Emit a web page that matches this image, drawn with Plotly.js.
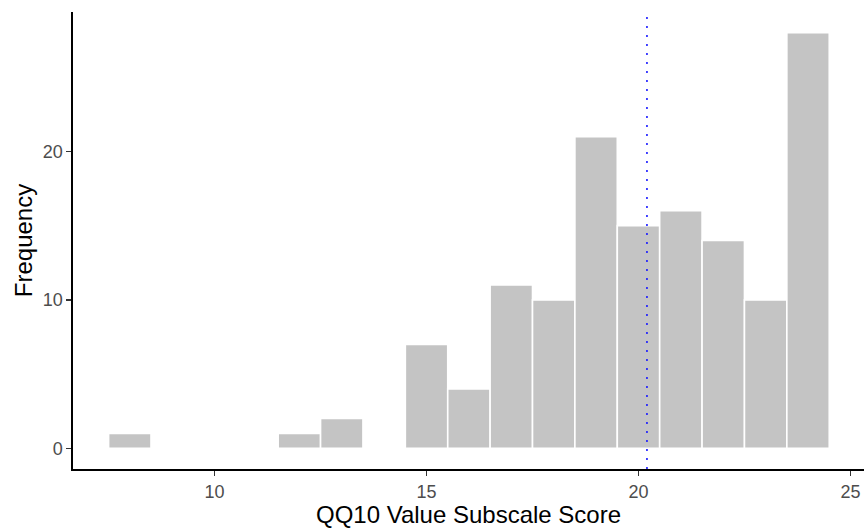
<!DOCTYPE html>
<html>
<head>
<meta charset="utf-8">
<script src="https://cdn.plot.ly/plotly-3.0.1.min.js"></script>
<style>html,body{margin:0;padding:0;background:#fff;}#chart{width:864px;height:528px;}</style>
</head>
<body>
<div id="chart"></div>
<script>
// Histogram bin centers (score) and counts
const scores = [8, 9, 10, 11, 12, 13, 14, 15, 16, 17, 18, 19, 20, 21, 22, 23, 24];
const counts = [1, 0, 0, 0, 1, 2, 0, 7, 4, 11, 10, 21, 15, 16, 14, 10, 28];
const meanScore = 20.2;
const xTicks = [10, 15, 20, 25];
const yTicks = [0, 10, 20];

const trace = {
  type: 'bar',
  x: scores,
  y: counts,
  width: 1,
  marker: { color: '#c4c4c4', line: { color: '#ffffff', width: 1.6 } },
  hoverinfo: 'x+y'
};

const layout = {
  width: 864,
  height: 528,
  margin: { l: 73, r: 0, t: 12, b: 59 },
  paper_bgcolor: '#ffffff',
  plot_bgcolor: '#ffffff',
  showlegend: false,
  font: { family: 'Liberation Sans, Arial, sans-serif' },
  bargap: 0,
  xaxis: {
    range: [6.66, 25.32],
    tickvals: xTicks,
    ticktext: xTicks.map(String),
    showgrid: false,
    zeroline: false,
    showline: true,
    linecolor: '#000000',
    linewidth: 1.6,
    ticks: 'outside',
    ticklen: 5,
    tickwidth: 1.3,
    tickcolor: '#333333',
    ticklabelstandoff: 1,
    tickfont: { size: 18, color: '#4d4d4d' },
    title: { text: 'QQ10 Value Subscale Score', font: { size: 24, color: '#000000' }, standoff: 1 }
  },
  yaxis: {
    range: [-1.4, 29.4],
    tickvals: yTicks,
    ticktext: yTicks.map(String),
    showgrid: false,
    zeroline: false,
    showline: true,
    linecolor: '#000000',
    linewidth: 1.6,
    ticks: 'outside',
    ticklen: 5,
    tickwidth: 1.3,
    tickcolor: '#333333',
    tickfont: { size: 18, color: '#4d4d4d' },
    title: { text: 'Frequency', font: { size: 24, color: '#000000' }, standoff: 3 }
  },
  shapes: [{
    type: 'line',
    xref: 'x', yref: 'paper',
    x0: meanScore, x1: meanScore, y0: 0, y1: 1,
    line: { color: '#1a1aff', width: 1.6, dash: '2px,7px' }
  }]
};

Plotly.newPlot('chart', [trace], layout, { displayModeBar: false, staticPlot: true });
</script>
</body>
</html>
